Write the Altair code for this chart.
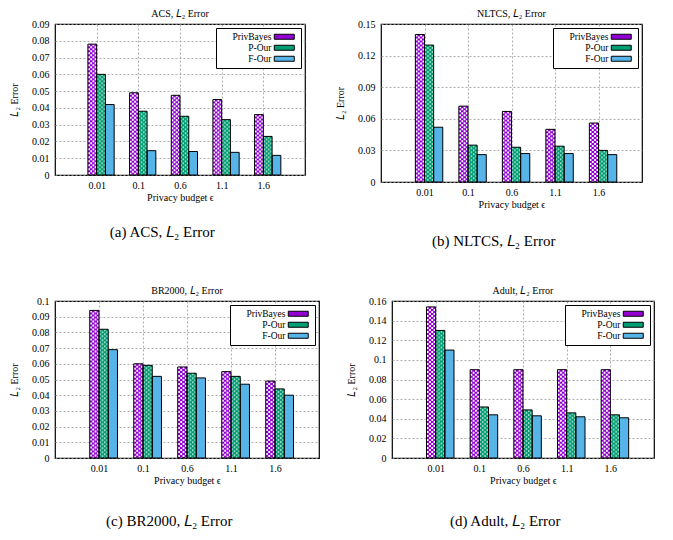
import altair as alt
import pandas as pd

# ---------------- data ----------------
categories = ["0.01", "0.1", "0.6", "1.1", "1.6"]
series = ["PrivBayes", "P-Our", "F-Our"]

acs_privbayes = [0.078, 0.049, 0.0475, 0.045, 0.036]
acs_pour = [0.060, 0.038, 0.035, 0.033, 0.023]
acs_four = [0.042, 0.0145, 0.014, 0.0135, 0.0117]

nltcs_privbayes = [0.140, 0.072, 0.067, 0.050, 0.056]
nltcs_pour = [0.130, 0.035, 0.033, 0.034, 0.030]
nltcs_four = [0.052, 0.026, 0.027, 0.027, 0.026]

br_privbayes = [0.094, 0.060, 0.058, 0.055, 0.049]
br_pour = [0.082, 0.059, 0.054, 0.052, 0.044]
br_four = [0.069, 0.052, 0.051, 0.047, 0.040]

adult_privbayes = [0.154, 0.090, 0.090, 0.090, 0.090]
adult_pour = [0.130, 0.052, 0.049, 0.046, 0.044]
adult_four = [0.110, 0.044, 0.043, 0.042, 0.041]

yticks_acs = [0, 0.01, 0.02, 0.03, 0.04, 0.05, 0.06, 0.07, 0.08, 0.09]
yticks_nltcs = [0, 0.03, 0.06, 0.09, 0.12, 0.15]
yticks_br = [0, 0.01, 0.02, 0.03, 0.04, 0.05, 0.06, 0.07, 0.08, 0.09, 0.1]
yticks_adult = [0, 0.02, 0.04, 0.06, 0.08, 0.1, 0.12, 0.14, 0.16]

# ---------------- style ----------------
FONT = "Liberation Serif"
COLORS = ["#9400D3", "#009E73", "#56B4E9"]
BW = 0.21
label_expr = "[" + ",".join("'%s'" % c for c in categories) + "][datum.value]"
# legend swatch drawn to the right of the (right-aligned) labels
SWATCH = "M19.8,-1H27.8V1H19.8Z"


def panel(title, caption, vals, yticks, w, h, cap_offset):
    rows, dots = [], []
    for si, (s, v) in enumerate(zip(series, vals)):
        off = (si - 1) * BW
        for i, val in enumerate(v):
            rows.append(dict(series=s, x=i + off, x2=i + off + BW, value=val))
            if si < 2:
                for k in range(4):
                    dots.append(dict(series=s, x=i + off + (k + 0.5) * BW / 4,
                                     value=val, parity=k % 2))
    bdf = pd.DataFrame(rows)
    ddf = pd.DataFrame(dots)

    xenc = alt.X("x:Q", scale=alt.Scale(domain=[-1, 5], nice=False, zero=False),
                 axis=alt.Axis(values=list(range(len(categories))), labelExpr=label_expr,
                               title="Privacy budget ϵ", labelOverlap=False))
    yenc = alt.Y("value:Q", scale=alt.Scale(domain=[0, yticks[-1]], nice=False),
                 axis=alt.Axis(values=yticks, format="~g", title="𝐿₂ Error",
                               labelOverlap=False))

    bars = alt.Chart(bdf).mark_rect(strokeWidth=0).encode(
        x2="x2:Q",
        y2=alt.datum(0),
        color=alt.Color("series:N", sort=series,
                        scale=alt.Scale(domain=series, range=COLORS),
                        legend=alt.Legend(orient="top-right", title=None,
                                          symbolType=SWATCH, symbolSize=25,
                                          symbolStrokeColor="black", symbolStrokeWidth=1,
                                          labelAlign="right", labelOffset=42,
                                          labelFont=FONT, labelFontSize=9.5,
                                          strokeColor="black", fillColor="white",
                                          padding=4, offset=4, rowPadding=0,
                                          cornerRadius=0)),
    )

    def dotlayer(s, parity, opacity, width):
        return alt.Chart(ddf).transform_filter(
            (alt.datum.series == s) & (alt.datum.parity == parity)
        ).mark_rule(color="white", opacity=opacity, strokeWidth=width,
                    strokeDash=[2, 2], strokeDashOffset=2 * parity,
                    strokeCap="butt").encode(
            y2=alt.datum(0),
        )

    outline = alt.Chart(bdf).mark_rect(fillOpacity=0, stroke="black", strokeWidth=1).encode(
        x2="x2:Q",
        y2=alt.datum(0),
    )

    layer = alt.layer(
        bars,
        dotlayer("PrivBayes", 0, 1, 1.8), dotlayer("PrivBayes", 1, 1, 1.8),
        dotlayer("P-Our", 0, 0.6, 1.5), dotlayer("P-Our", 1, 0.6, 1.5),
        outline,
    ).encode(x=xenc, y=yenc).properties(
        width=w, height=h,
        title=alt.Title(title, font=FONT, fontSize=10, fontWeight="normal",
                        frame="group", anchor="middle", offset=0),
    )
    return alt.vconcat(layer, title=alt.Title(caption, orient="bottom", font=FONT,
                                              fontSize=15, fontWeight="normal",
                                              anchor="middle", offset=cap_offset, dx=5)
                       ).resolve_scale(color="independent")


pa = panel("ACS, 𝐿₂ Error", "(a)  ACS, 𝐿₂ Error",
           [acs_privbayes, acs_pour, acs_four], yticks_acs, 250, 151, 22)
pb = panel("NLTCS, 𝐿₂ Error", "(b)  NLTCS, 𝐿₂ Error",
           [nltcs_privbayes, nltcs_pour, nltcs_four], yticks_nltcs, 261, 158, 24)
pc = panel("BR2000, 𝐿₂ Error", "(c)  BR2000, 𝐿₂ Error",
           [br_privbayes, br_pour, br_four], yticks_br, 264, 157, 28)
pd_ = panel("Adult, 𝐿₂ Error", "(d)  Adult, 𝐿₂ Error",
            [adult_privbayes, adult_pour, adult_four], yticks_adult, 262, 157, 28)

chart = alt.vconcat(
    alt.hconcat(pa, pb, spacing=28).resolve_scale(color="independent"),
    alt.hconcat(pc, pd_, spacing=25).resolve_scale(color="independent"),
    spacing=36,
).properties(padding=0).resolve_scale(color="independent").configure_view(
    stroke="black", strokeWidth=1.2
).configure_axis(
    labelFont=FONT, labelFontSize=10, labelColor="black",
    titleFont=FONT, titleFontSize=10, titleFontWeight="normal", titleColor="black",
    domain=False, ticks=False,
    grid=True, gridColor="#9a9a9a", gridDash=[2, 2], gridWidth=0.8,
).configure_axisY(
    labelPadding=6, titlePadding=12,
).configure_axisX(
    labelPadding=5, titlePadding=2,
).configure_legend(
    labelColor="black"
)

chart.save("out.html", embed_options={"renderer": "svg", "actions": False})
